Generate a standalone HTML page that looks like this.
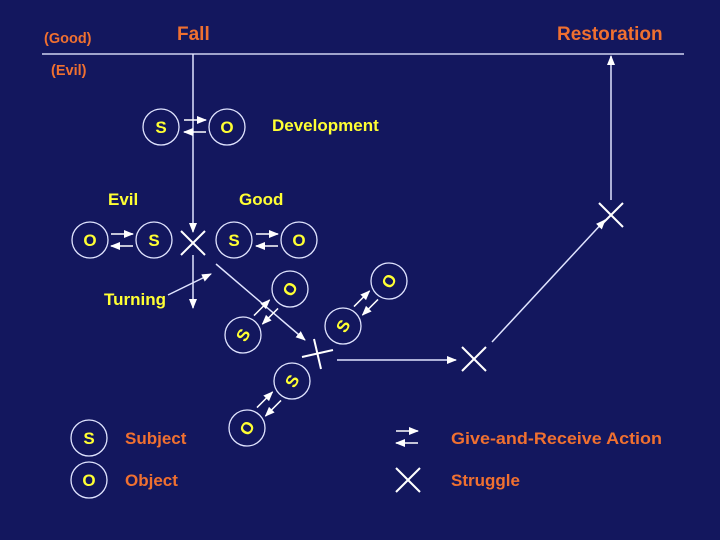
<!DOCTYPE html>
<html><head><style>
body{margin:0;background:#13175e;}
svg{display:block}
text{font-family:"Liberation Sans",Arial,sans-serif;font-weight:bold;}
.y{fill:#ffff33}
.o{fill:#f07030}
</style></head><body>
<svg width="720" height="540" viewBox="0 0 720 540">
<defs>
<marker id="a" markerWidth="10" markerHeight="8" refX="9" refY="4" orient="auto" markerUnits="userSpaceOnUse">
<path d="M0,0 L10,4 L0,8 Z" fill="#fff"/></marker>
<g id="ga">
<line x1="-11" y1="-6" x2="11" y2="-6" stroke="#fff" stroke-width="1.5" marker-end="url(#a)"/>
<line x1="11" y1="6" x2="-11" y2="6" stroke="#fff" stroke-width="1.5" marker-end="url(#a)"/>
</g>
</defs>
<rect width="720" height="540" fill="#13175e"/>
<g stroke="#d0d4f0" stroke-width="1.5" fill="none">
<line x1="42" y1="54" x2="684" y2="54"/>
</g>
<text x="44" y="43" class="o" font-size="14.5">(Good)</text>
<text x="51" y="75" class="o" font-size="14.5">(Evil)</text>
<text x="177" y="40" class="o" font-size="19">Fall</text>
<text x="557" y="40" class="o" font-size="19">Restoration</text>
<g stroke="#e0e4ff" stroke-width="1.5" fill="none">
<line x1="193" y1="54" x2="193" y2="232" marker-end="url(#a)"/>
<line x1="193" y1="255" x2="193" y2="308" marker-end="url(#a)"/>
<line x1="168" y1="295" x2="211" y2="274" marker-end="url(#a)"/>
<line x1="216" y1="264" x2="305" y2="340" marker-end="url(#a)"/>
<line x1="337" y1="360" x2="456" y2="360" marker-end="url(#a)"/>
<line x1="492" y1="342" x2="605" y2="220" marker-end="url(#a)"/>
<line x1="611" y1="200" x2="611" y2="56" marker-end="url(#a)"/>
</g>
<g stroke="#fff" stroke-width="2">
<line x1="181" y1="231" x2="205" y2="255"/><line x1="205" y1="231" x2="181" y2="255"/>
<line x1="302" y1="357" x2="333" y2="350"/><line x1="314" y1="339" x2="321" y2="369"/>
<line x1="462" y1="347" x2="486" y2="371"/><line x1="486" y1="347" x2="462" y2="371"/>
<line x1="599" y1="203" x2="623" y2="227"/><line x1="623" y1="203" x2="599" y2="227"/>
<line x1="396" y1="468" x2="420" y2="492"/><line x1="420" y1="468" x2="396" y2="492"/>
</g>
<g fill="none" stroke="#e0e4ff" stroke-width="1.3">
<circle cx="161" cy="127" r="18"/><circle cx="227" cy="127" r="18"/>
<circle cx="90" cy="240" r="18"/><circle cx="154" cy="240" r="18"/>
<circle cx="234" cy="240" r="18"/><circle cx="299" cy="240" r="18"/>
<circle cx="243" cy="335" r="18"/><circle cx="290" cy="289" r="18"/>
<circle cx="343" cy="326" r="18"/><circle cx="389" cy="281" r="18"/>
<circle cx="292" cy="381" r="18"/><circle cx="247" cy="428" r="18"/>
<circle cx="89" cy="438" r="18"/><circle cx="89" cy="480" r="18"/>
</g>
<use href="#ga" x="195" y="126"/>
<use href="#ga" x="122" y="240"/>
<use href="#ga" x="267" y="240"/>
<use href="#ga" x="407" y="437"/>
<use href="#ga" transform="translate(266,312) rotate(-45)"/>
<use href="#ga" transform="translate(366,303) rotate(-45)"/>
<use href="#ga" transform="translate(269,404) rotate(-45)"/>
<g class="y" font-size="17" text-anchor="middle">
<text x="161" y="133">S</text><text x="227" y="133">O</text>
<text x="90" y="246">O</text><text x="154" y="246">S</text>
<text x="234" y="246">S</text><text x="299" y="246">O</text>
<text transform="translate(243,335) rotate(-60)" y="6">S</text>
<text transform="translate(290,289) rotate(-60)" y="6">O</text>
<text transform="translate(343,326) rotate(-60)" y="6">S</text>
<text transform="translate(389,281) rotate(-60)" y="6">O</text>
<text transform="translate(292,381) rotate(-60)" y="6">S</text>
<text transform="translate(247,428) rotate(-60)" y="6">O</text>
<text x="89" y="444">S</text><text x="89" y="486">O</text>
</g>
<g class="y" font-size="17">
<text x="272" y="131">Development</text>
<text x="108" y="205">Evil</text>
<text x="239" y="205">Good</text>
<text x="104" y="305">Turning</text>
</g>
<g class="o" font-size="17">
<text x="125" y="444">Subject</text>
<text x="125" y="486">Object</text>
<text x="451" y="444" textLength="211" lengthAdjust="spacingAndGlyphs">Give-and-Receive Action</text>
<text x="451" y="486">Struggle</text>
</g>
</svg>
</body></html>
